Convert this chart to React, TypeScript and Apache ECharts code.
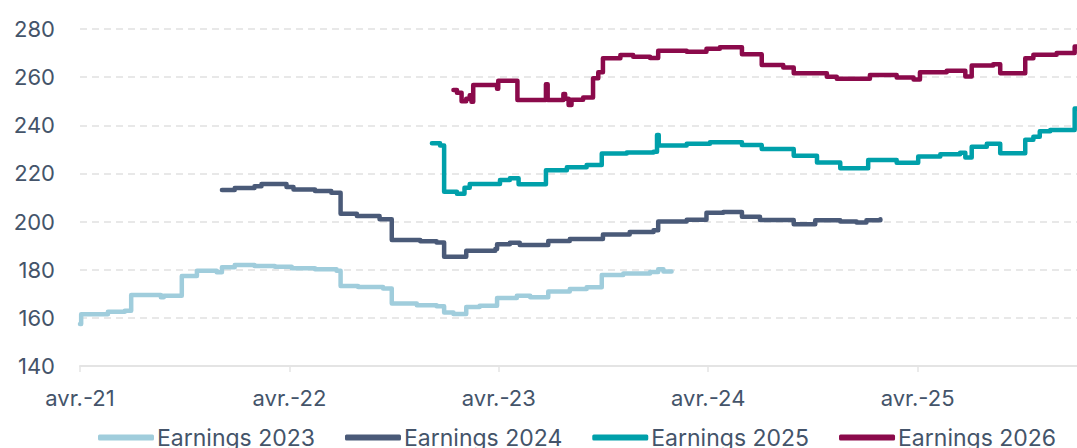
import React, { useEffect, useRef } from "react";
import * as echarts from "echarts";

// Step points: [date, value]; each value holds until the next date.
const earnings2023: [string, number][] = [
  ["2021-04-01", 157.5], ["2021-04-03", 161.5], ["2021-05-19", 162.5], ["2021-06-18", 163],
  ["2021-06-29", 169.5], ["2021-08-20", 168.6], ["2021-08-25", 169.2], ["2021-09-26", 177.4],
  ["2021-10-22", 179.6], ["2021-11-26", 178.9], ["2021-12-05", 181], ["2021-12-27", 182],
  ["2022-02-01", 181.5], ["2022-03-06", 181.2], ["2022-04-05", 180.6], ["2022-05-15", 180.2],
  ["2022-06-22", 179.6], ["2022-06-29", 173.2], ["2022-07-29", 172.8], ["2022-09-12", 172.2],
  ["2022-09-27", 166], ["2022-11-10", 165.2], ["2022-12-14", 164.8], ["2022-12-27", 162.2],
  ["2023-01-13", 161.6], ["2023-02-05", 164.5], ["2023-02-28", 165], ["2023-03-28", 168.3],
  ["2023-05-02", 169.2], ["2023-05-25", 168.6], ["2023-06-26", 170.9], ["2023-08-03", 172],
  ["2023-09-02", 172.7], ["2023-09-28", 177.8], ["2023-11-05", 178.4], ["2023-12-21", 179],
  ["2024-01-05", 180.2], ["2024-01-14", 179.3], ["2024-01-28", 179.3],
];

const earnings2024: [string, number][] = [
  ["2021-12-05", 213.1], ["2021-12-27", 213.9], ["2022-02-01", 214.7], ["2022-02-13", 215.6],
  ["2022-03-26", 214.4], ["2022-04-08", 213.3], ["2022-05-15", 212.7], ["2022-06-13", 212],
  ["2022-06-29", 203.2], ["2022-07-27", 202.3], ["2022-09-06", 201], ["2022-09-27", 192.3],
  ["2022-11-16", 191.8], ["2022-12-14", 191.3], ["2022-12-27", 185.4], ["2023-02-05", 187.9],
  ["2023-03-25", 188.6], ["2023-03-28", 190.6], ["2023-04-20", 191.2], ["2023-05-07", 190.3],
  ["2023-06-26", 191.9], ["2023-08-03", 192.8], ["2023-09-30", 194.6], ["2023-11-16", 195.7],
  ["2023-12-27", 196.4], ["2024-01-05", 200], ["2024-02-24", 200.8], ["2024-03-28", 203.7],
  ["2024-04-27", 204], ["2024-05-29", 202], ["2024-06-30", 200.7], ["2024-08-28", 198.9],
  ["2024-10-05", 200.6], ["2024-11-18", 200], ["2024-12-16", 199.6], ["2025-01-03", 200.6],
  ["2025-01-27", 201],
];

const earnings2025: [string, number][] = [
  ["2022-12-06", 232.5], ["2022-12-20", 231.6], ["2022-12-27", 212.4], ["2023-01-19", 211.6],
  ["2023-02-02", 214], ["2023-02-11", 215.6], ["2023-04-03", 217.3], ["2023-04-20", 218],
  ["2023-05-05", 215.5], ["2023-06-22", 221.3], ["2023-07-28", 222.6], ["2023-09-02", 223.5],
  ["2023-09-28", 228.3], ["2023-11-11", 228.7], ["2023-12-27", 229], ["2024-01-03", 236],
  ["2024-01-06", 231.6], ["2024-02-24", 232.3], ["2024-04-04", 233], ["2024-05-29", 231.8],
  ["2024-07-03", 230.2], ["2024-08-28", 227.3], ["2024-10-08", 224.5], ["2024-11-18", 222.2],
  ["2025-01-06", 225.6], ["2025-02-25", 224.4], ["2025-04-02", 227], ["2025-05-10", 228],
  ["2025-06-14", 228.6], ["2025-06-23", 226.6], ["2025-07-04", 231.1], ["2025-07-30", 232.3],
  ["2025-08-23", 228.4], ["2025-10-06", 234], ["2025-10-20", 235.2], ["2025-11-01", 237.5],
  ["2025-11-19", 238], ["2026-01-01", 247], ["2026-01-04", 247],
];

const earnings2026: [string, number][] = [
  ["2023-01-13", 254.7], ["2023-01-19", 253.5], ["2023-01-27", 250], ["2023-02-05", 251],
  ["2023-02-11", 252.5], ["2023-02-14", 249.8], ["2023-02-17", 256.7], ["2023-03-28", 255.2],
  ["2023-03-30", 258.5], ["2023-05-03", 250.5], ["2023-06-22", 257], ["2023-06-25", 250.5],
  ["2023-07-22", 253], ["2023-07-25", 251], ["2023-08-01", 248.4], ["2023-08-06", 250.6],
  ["2023-08-26", 251.5], ["2023-09-13", 259.5], ["2023-09-22", 262], ["2023-09-30", 267.8],
  ["2023-10-30", 269.2], ["2023-11-22", 268.5], ["2023-12-21", 268], ["2024-01-05", 271],
  ["2024-02-24", 270.6], ["2024-03-28", 271.8], ["2024-04-21", 272.4], ["2024-05-29", 269.5],
  ["2024-07-03", 265], ["2024-08-10", 264], ["2024-08-28", 261.6], ["2024-10-25", 260.2],
  ["2024-11-12", 259.3], ["2025-01-09", 260.9], ["2025-02-25", 259.9], ["2025-03-24", 259],
  ["2025-04-05", 262], ["2025-05-21", 262.7], ["2025-06-23", 260.3], ["2025-07-04", 264.8],
  ["2025-08-11", 265.4], ["2025-08-23", 261.6], ["2025-10-06", 267.8], ["2025-10-20", 269.3],
  ["2025-11-30", 270], ["2026-01-01", 272.7], ["2026-01-04", 272.7],
];

const seriesNames = ["Earnings 2023", "Earnings 2024", "Earnings 2025", "Earnings 2026"];
const seriesColors = ["#A0CDDC", "#4A5A78", "#00A0AA", "#8B0A4B"];
const yTicks = { min: 140, max: 280, interval: 20 };
const monthLabel = "avr.";

// months since April 2021
const toMonths = (s: string) => {
  const [y, m, d] = s.split("-").map(Number);
  return (y - 2021) * 12 + (m - 4) + (d - 1) / 30;
};

export default function App() {
  const ref = useRef<HTMLDivElement>(null);
  useEffect(() => {
    document.body.style.margin = "0";
    if (!ref.current) return;
    const chart = echarts.init(ref.current, null, { renderer: "svg" });
    const textColor = "#44546A";
    const font = "Inter, 'Noto Sans', sans-serif";
    const all = [earnings2023, earnings2024, earnings2025, earnings2026];
    chart.setOption({
      animation: false,
      grid: { left: 80, right: 0, top: 29, bottom: 82, containLabel: false, outerBoundsMode: "none" },
      legend: {
        data: seriesNames,
        left: 93,
        top: 421,
        icon: "roundRect",
        itemWidth: 56,
        itemHeight: 6,
        itemGap: 30,
        textStyle: { color: textColor, fontSize: 23, fontFamily: font, padding: [0, 0, 0, -2] },
      },
      xAxis: {
        type: "value",
        min: 0,
        max: toMonths("2026-01-05"),
        interval: 12,
        splitLine: { show: false },
        axisLine: { show: true, lineStyle: { color: "#E4E4E4", width: 2 } },
        axisTick: { show: true, length: 6, lineStyle: { color: "#E4E4E4", width: 1.5 } },
        axisLabel: {
          color: textColor,
          fontSize: 22,
          fontFamily: font,
          margin: 21,
          showMaxLabel: false,
          formatter: (v: number) =>
            Math.abs(v % 12) < 1e-6 ? `${monthLabel}-${21 + Math.round(v / 12)}` : "",
        },
      },
      yAxis: {
        type: "value",
        min: yTicks.min,
        max: yTicks.max,
        interval: yTicks.interval,
        axisLine: { show: false },
        axisTick: { show: false },
        splitLine: { show: true, lineStyle: { color: "#E8E8E8", width: 2, type: [7, 5] } },
        axisLabel: { color: textColor, fontSize: 22, fontFamily: font, margin: 25 },
      },
      series: all.map((arr, i) => ({
        name: seriesNames[i],
        type: "line",
        step: "end",
        showSymbol: false,
        symbol: "none",
        color: seriesColors[i],
        lineStyle: { width: 4.5, color: seriesColors[i], cap: "round", join: "round" },
        data: arr.map(([d, v]) => [toMonths(d), v]),
      })),
    });
    return () => chart.dispose();
  }, []);
  return <div ref={ref} style={{ width: 1077, height: 448 }} />;
}
